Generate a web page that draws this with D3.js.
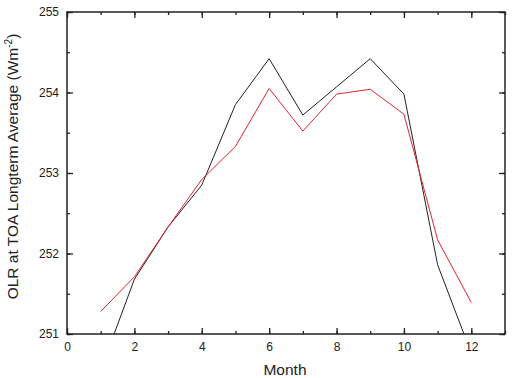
<!DOCTYPE html>
<html><head><meta charset="utf-8">
<script src="https://cdn.jsdelivr.net/npm/d3@7"></script>
<style>body{margin:0;background:#fff}svg{display:block}</style>
</head><body><svg id="c" width="512" height="378"></svg>
<script>
const months = [1,2,3,4,5,6,7,8,9,10,11,12];
const blackSeries = [250.55,251.68,252.33,252.85,253.85,254.42,253.72,254.07,254.42,253.98,251.86,250.76];
const redSeries = [251.28,251.71,252.33,252.92,253.33,254.05,253.52,253.98,254.04,253.73,252.17,251.39];
const xTicks = [0,2,4,6,8,10,12];
const yTicks = [251,252,253,254,255];

const svg = d3.select("#c");
const L=67, R=505, T=12, B=334;
const x = d3.scaleLinear().domain([0,13]).range([L,R]);
const y = d3.scaleLinear().domain([251,255]).range([B,T]);
const font = "Liberation Sans, Arial, sans-serif";

svg.append("defs").append("clipPath").attr("id","clip")
  .append("rect").attr("x",L).attr("y",T).attr("width",R-L).attr("height",B-T);

const line = d3.line().x((d,i)=>x(months[i])).y(d=>y(d));
svg.append("path").datum(blackSeries).attr("d",line).attr("fill","none")
  .attr("stroke","#222").attr("stroke-width",1).attr("clip-path","url(#clip)");
svg.append("path").datum(redSeries).attr("d",line).attr("fill","none")
  .attr("stroke","#e0262a").attr("stroke-width",1).attr("clip-path","url(#clip)");

// axes
const xMinor = d3.range(0,14,1);
const yMinor = d3.range(251,255.01,0.5);
svg.append("g").attr("transform",`translate(0,${B})`)
  .call(d3.axisBottom(x).tickValues(xTicks).tickSize(-6).tickPadding(8).tickFormat(d3.format("d")));
svg.append("g").attr("transform",`translate(0,${B})`)
  .call(d3.axisBottom(x).tickValues(xMinor).tickSize(-3).tickFormat(""));
svg.append("g").attr("transform",`translate(0,${T})`)
  .call(d3.axisTop(x).tickValues(xTicks).tickSize(-6).tickFormat(""));
svg.append("g").attr("transform",`translate(0,${T})`)
  .call(d3.axisTop(x).tickValues(xMinor).tickSize(-3).tickFormat(""));
svg.append("g").attr("transform",`translate(${L},0)`)
  .call(d3.axisLeft(y).tickValues(yTicks).tickSize(-6).tickPadding(8).tickFormat(d3.format("d")));
svg.append("g").attr("transform",`translate(${L},0)`)
  .call(d3.axisLeft(y).tickValues(yMinor).tickSize(-3).tickFormat(""));
svg.append("g").attr("transform",`translate(${R},0)`)
  .call(d3.axisRight(y).tickValues(yTicks).tickSize(-6).tickFormat(""));
svg.append("g").attr("transform",`translate(${R},0)`)
  .call(d3.axisRight(y).tickValues(yMinor).tickSize(-3).tickFormat(""));
svg.selectAll(".domain").remove();
svg.selectAll(".tick line").attr("stroke","#222").attr("stroke-width",1.3);
svg.selectAll(".tick text").attr("font-family",font).attr("font-size",12).attr("fill","#222");

svg.append("rect").attr("x",L).attr("y",T).attr("width",R-L).attr("height",B-T)
  .attr("fill","none").attr("stroke","#222").attr("stroke-width",1.5);

svg.append("text").attr("x",285).attr("y",375).attr("text-anchor","middle")
  .attr("font-family",font).attr("font-size",15.5).attr("fill","#222").text("Month");

const yl = svg.append("text").attr("transform",`translate(18,166.5) rotate(-90)`)
  .attr("text-anchor","middle").attr("font-family",font).attr("font-size",15.5).attr("fill","#222");
yl.append("tspan").text("OLR at TOA Longterm Average (Wm");
yl.append("tspan").attr("dy",-6).attr("font-size",10).text("-2");
yl.append("tspan").attr("dy",6).text(")");
</script></body></html>
